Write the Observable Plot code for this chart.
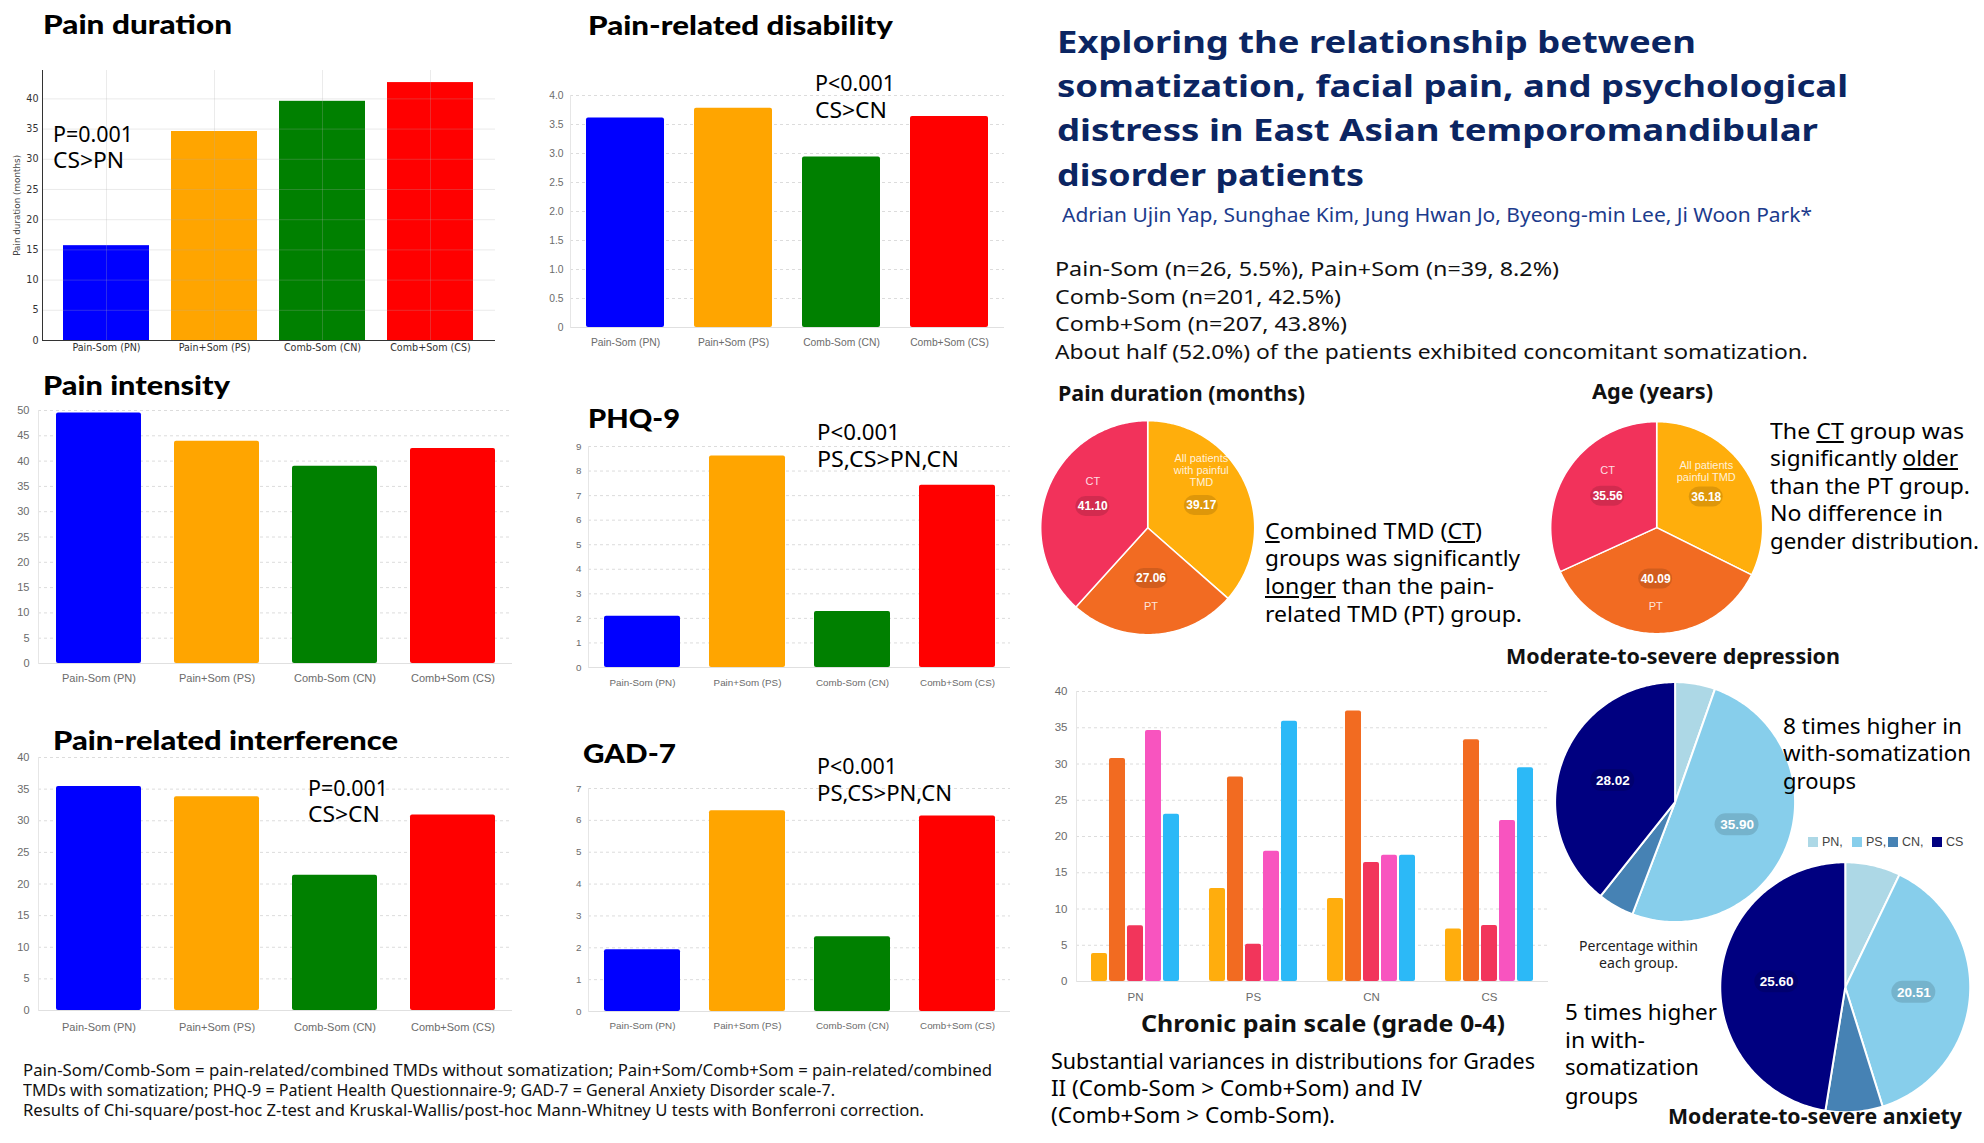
<!DOCTYPE html>
<html><head><meta charset="utf-8">
<script src="https://cdn.jsdelivr.net/npm/d3@7"></script>
<script src="https://cdn.jsdelivr.net/npm/@observablehq/plot@0.6"></script>
<style>
html,body{margin:0;padding:0;background:#fff;}
#root{position:relative;width:1984px;height:1143px;overflow:hidden;background:#fff;}
#root > *{position:absolute;}
.t{white-space:nowrap;}
.sq{width:10px;height:10px;}
</style></head>
<body><div id="root"></div>
<script>
// ---------------- data ----------------
const groups = ["Pain-Som (PN)", "Pain+Som (PS)", "Comb-Som (CN)", "Comb+Som (CS)"];
const groupColors = ["#0000ff", "#ffa500", "#008000", "#ff0000"];
const painDuration = [15.7, 34.6, 39.6, 42.7];
const painDisability = [3.61, 3.78, 2.94, 3.64];
const painIntensity = [49.5, 43.9, 39.0, 42.5];
const phq9 = [2.09, 8.61, 2.28, 7.42];
const painInterference = [35.4, 33.8, 21.4, 30.9];
const gad7 = [1.94, 6.30, 2.35, 6.14];
const durationTicks = [0, 5, 10, 15, 20, 25, 30, 35, 40];
const disabilityTicks = [0, 0.5, 1, 1.5, 2, 2.5, 3, 3.5, 4];
const intensityTicks = [0, 5, 10, 15, 20, 25, 30, 35, 40, 45, 50];
const phqTicks = [0, 1, 2, 3, 4, 5, 6, 7, 8, 9];
const interferenceTicks = [0, 5, 10, 15, 20, 25, 30, 35, 40];
const gadTicks = [0, 1, 2, 3, 4, 5, 6, 7];

const cpsGroups = ["PN", "PS", "CN", "CS"];
const cpsGrades = ["Grade 0", "Grade I", "Grade II", "Grade III", "Grade IV"];
const cpsColors = ["#ffad0d", "#f26b21", "#f2355b", "#f854bf", "#2cb9f7"];
const cpsPN = [3.85, 30.77, 7.69, 34.62, 23.08];
const cpsPS = [12.82, 28.21, 5.13, 17.95, 35.90];
const cpsCN = [11.44, 37.31, 16.42, 17.41, 17.41];
const cpsCS = [7.25, 33.33, 7.73, 22.22, 29.47];
const cpsTicks = [0, 5, 10, 15, 20, 25, 30, 35, 40];

const tmdColors = ["#ffae0c", "#f26b22", "#f2325b"];
const durationPieNames = ["All patients\nwith painful\nTMD", "PT", "CT"];
const durationPieMonths = [39.17, 27.06, 41.10];
const agePieNames = ["All patients\npainful TMD", "PT", "CT"];
const agePieYears = [36.18, 40.09, 35.56];

const moodGroups = ["PN", "PS", "CN", "CS"];
const moodColors = ["#add8e6", "#87ceeb", "#4682b4", "#000080"];
const depressionPct = [3.85, 35.90, 3.48, 28.02];
const anxietyPct = [3.85, 20.51, 3.98, 25.60];

// ---------------- helpers ----------------
const root = document.getElementById("root");
const fits = [];
const BASE = {noto: 0.888, lato: 0.887, lib: 0.847, dejavu: 0.846};
const FAM = {
  noto: "'Noto Sans', sans-serif",
  lato: "Lato, 'Noto Sans', sans-serif",
  lib: "'Liberation Sans', Arial, sans-serif",
  dejavu: "'DejaVu Sans', sans-serif"
};
function T(content, o) {
  const f = o.font || "noto", size = o.size;
  const d = document.createElement("div");
  d.className = "t";
  d.style.left = o.x + "px";
  d.style.top = (o.base - BASE[f] * size) + "px";
  d.style.fontSize = size + "px";
  d.style.lineHeight = size + "px";
  d.style.fontFamily = FAM[f];
  d.style.fontWeight = o.weight || 400;
  d.style.color = o.color || "#000";
  if (o.html) d.innerHTML = content; else d.textContent = content;
  root.appendChild(d);
  fits.push({d, o});
  return d;
}
function place(el, left, top) {
  el.style.position = "absolute";
  el.style.left = left + "px";
  el.style.top = top + "px";
  root.appendChild(el);
}

// Chart.js-like bar chart
function cjsBars(values, ticks, fmt, b) {
  const mL = 40, mR = 6, mT = 8, mB = 30;
  const data = groups.map((g, i) => ({group: g, value: values[i]}));
  const chart = Plot.plot({
    width: b.x1 - b.x0 + mL + mR, height: b.yBot - b.yTop + mT + mB,
    marginLeft: mL, marginRight: mR, marginTop: mT, marginBottom: mB,
    style: {fontFamily: FAM.lib, fontSize: b.fs + "px", color: "#6b6b6b", background: "none", overflow: "visible"},
    x: {type: "band", domain: groups, paddingInner: 0.28, paddingOuter: 0.14, label: null, tickSize: 0, tickPadding: b.gap - 0.36 * b.fs},
    y: {domain: [0, ticks[ticks.length - 1]], ticks, tickFormat: fmt, label: null, tickSize: 0, tickPadding: b.ypad},
    color: {domain: groups, range: groupColors},
    marks: [
      Plot.ruleY(ticks.filter(t => t > 0), {stroke: "#dcdcdc", strokeDasharray: "3,3"}),
      Plot.barY(data, {x: "group", y: "value", fill: "group", rx: 2}),
      Plot.ruleY([0], {stroke: "#e0e0e0"}),
      Plot.frame({anchor: "left", stroke: "#e6e6e6"})
    ]
  });
  place(chart, b.x0 - mL, b.yTop - mT);
}

// pie drawn through Plot scales (unit circle)
function pie(values, colors, o) {
  const pad = 1.03, size = 2 * o.r * pad;
  const total = d3.sum(values);
  const marks = [];
  const vals = [], names = [];
  let a0 = 0;
  values.forEach((v, i) => {
    const a1 = a0 + v / total * 2 * Math.PI;
    const n = Math.max(2, Math.ceil((a1 - a0) * 180 / Math.PI));
    const pts = [{x: 0, y: 0}];
    for (let k = 0; k <= n; k++) { const a = a0 + (a1 - a0) * k / n; pts.push({x: Math.sin(a), y: Math.cos(a)}); }
    marks.push(Plot.line(pts, {x: "x", y: "y", fill: colors[i], stroke: "#fff", strokeWidth: o.sw, strokeLinejoin: "round", curve: "linear-closed"}));
    const am = (a0 + a1) / 2;
    const cx = 0.55 * Math.sin(am), cy = 0.55 * Math.cos(am);
    if (o.show[i]) vals.push({x: cx, y: cy - (o.vdy ? o.vdy[i] : 0) / o.r, text: v.toFixed(2)});
    if (o.names) names.push({x: cx, y: cy - o.ndy[i] / o.r, text: o.names[i]});
    a0 = a1;
  });
  const bw = o.bw / o.r, bh = o.bh / o.r;
  marks.push(Plot.rect(vals, {x1: d => d.x - bw, x2: d => d.x + bw, y1: d => d.y - bh, y2: d => d.y + bh, fill: "rgba(0,0,0,0.13)", rx: o.bh}));
  marks.push(Plot.text(vals, {x: "x", y: "y", text: "text", fill: "#fff", fontWeight: "bold", fontSize: o.vfs, fontFamily: FAM.lib}));
  if (o.names) marks.push(Plot.text(names, {x: "x", y: "y", text: "text", fill: "rgba(255,255,255,0.85)", fontSize: 11, fontFamily: FAM.lib, lineHeight: 1.1}));
  const chart = Plot.plot({
    width: size, height: size, margin: 0,
    x: {domain: [-pad, pad], axis: null}, y: {domain: [-pad, pad], axis: null},
    style: {background: "none", overflow: "visible"},
    marks
  });
  place(chart, o.cx - size / 2, o.cy - size / 2);
}

// ---------------- left: bar charts ----------------
// Pain duration (matplotlib style)
(function () {
  const b = {x0: 42, x1: 495, yTop: 70, yBot: 340};
  const mL = 40, mR = 8, mT = 6, mB = 24;
  const data = groups.map((g, i) => ({group: g, value: painDuration[i]}));
  const chart = Plot.plot({
    width: b.x1 - b.x0 + mL + mR, height: b.yBot - b.yTop + mT + mB,
    marginLeft: mL, marginRight: mR, marginTop: mT, marginBottom: mB,
    style: {fontFamily: FAM.dejavu, fontSize: "9.6px", color: "#333", background: "none", overflow: "visible"},
    x: {type: "band", domain: groups, paddingInner: 0.2, paddingOuter: 0.1, inset: 9, label: null, tickSize: 0, tickPadding: 3.5},
    y: {domain: [0, 44.7], ticks: durationTicks, label: null, tickSize: 0, tickPadding: 4},
    color: {domain: groups, range: groupColors},
    marks: [
      Plot.barY(data, {x: "group", y: "value", fill: "group"}),
      Plot.ruleY(durationTicks.filter(t => t > 0), {stroke: "#b0b0b0", strokeOpacity: 0.25}),
      Plot.ruleX(groups, {x: d => d, stroke: "#b0b0b0", strokeOpacity: 0.25}),
      Plot.ruleY([0], {stroke: "#333"}),
      Plot.frame({anchor: "left", stroke: "#333"})
    ]
  });
  place(chart, b.x0 - mL, b.yTop - mT);
  const yl = T("Pain duration (months)", {x: 0, base: 0, size: 8.8, font: "dejavu", color: "#444"});
  yl.dataset.rot = "1";
})();

cjsBars(painDisability, disabilityTicks, d => d === 0 ? "0" : d.toFixed(1), {x0: 570, x1: 1004, yTop: 95, yBot: 327, fs: 10.3, gap: 15, ypad: 7});
cjsBars(painIntensity, intensityTicks, d => String(d), {x0: 38, x1: 512, yTop: 410, yBot: 663, fs: 11, gap: 15, ypad: 9});
cjsBars(phq9, phqTicks, d => String(d), {x0: 588, x1: 1010, yTop: 446, yBot: 667, fs: 9.8, gap: 15, ypad: 7});
cjsBars(painInterference, interferenceTicks, d => String(d), {x0: 38, x1: 512, yTop: 757, yBot: 1010, fs: 11, gap: 17, ypad: 9});
cjsBars(gad7, gadTicks, d => String(d), {x0: 588, x1: 1010, yTop: 788, yBot: 1011, fs: 9.8, gap: 14, ypad: 7});

// chart titles
T("Pain duration", {x: 43, base: 34.3, size: 27, font: "lato", weight: 900, w: 189});
T("Pain-related disability", {x: 588, base: 35, size: 27, font: "lato", weight: 900, w: 305});
T("Pain intensity", {x: 43, base: 395, size: 27, font: "lato", weight: 900, w: 187});
T("PHQ-9", {x: 588, base: 428, size: 27, font: "lato", weight: 900, w: 92});
T("Pain-related interference", {x: 53, base: 750, size: 27, font: "lato", weight: 900, w: 345});
T("GAD-7", {x: 583, base: 763, size: 27, font: "lato", weight: 900, w: 93});

// annotations
T("P=0.001", {x: 53, base: 141.7, size: 22, w: 80});
T("CS>PN", {x: 53, base: 168, size: 22, w: 71});
T("P<0.001", {x: 815, base: 90.7, size: 22, w: 80});
T("CS>CN", {x: 815, base: 117.3, size: 22, w: 72});
T("P<0.001", {x: 817, base: 440, size: 22, w: 83});
T("PS,CS>PN,CN", {x: 817, base: 466.7, size: 22, w: 142});
T("P=0.001", {x: 308, base: 796, size: 22, w: 80});
T("CS>CN", {x: 308, base: 822, size: 22, w: 72});
T("P<0.001", {x: 817, base: 774, size: 22, w: 80});
T("PS,CS>PN,CN", {x: 817, base: 800.7, size: 22, w: 135});

// footnote
T("Pain-Som/Comb-Som = pain-related/combined TMDs without somatization; Pain+Som/Comb+Som = pain-related/combined", {x: 23, base: 1075.7, size: 17, w: 969, color: "#111"});
T("TMDs with somatization; PHQ-9 = Patient Health Questionnaire-9; GAD-7 = General Anxiety Disorder scale-7.", {x: 23, base: 1095.7, size: 17, w: 812, color: "#111"});
T("Results of Chi-square/post-hoc Z-test and Kruskal-Wallis/post-hoc Mann-Whitney U tests with Bonferroni correction.", {x: 23, base: 1115.7, size: 17, w: 901, color: "#111"});

// ---------------- right: title block ----------------
const navy = "#0b2562";
T("Exploring the relationship between", {x: 1057, base: 53.3, size: 30, weight: 700, color: navy, w: 639});
T("somatization, facial pain, and psychological", {x: 1057, base: 97.5, size: 30, weight: 700, color: navy, w: 791});
T("distress in East Asian temporomandibular", {x: 1057, base: 142, size: 30, weight: 700, color: navy, w: 761});
T("disorder patients", {x: 1057, base: 187, size: 30, weight: 700, color: navy, w: 307});
T("Adrian Ujin Yap, Sunghae Kim, Jung Hwan Jo, Byeong-min Lee, Ji Woon Park*", {x: 1062, base: 223, size: 20, color: "#1c3b8c", w: 750});
T("Pain-Som (n=26, 5.5%), Pain+Som (n=39, 8.2%)", {x: 1055, base: 276.7, size: 20.5, color: "#111", w: 504});
T("Comb-Som (n=201, 42.5%)", {x: 1055, base: 304, size: 20.5, color: "#111", w: 286});
T("Comb+Som (n=207, 43.8%)", {x: 1055, base: 331.7, size: 20.5, color: "#111", w: 292});
T("About half (52.0%) of the patients exhibited concomitant somatization.", {x: 1055, base: 359.3, size: 20.5, color: "#111", w: 753});

// ---------------- pies ----------------
T("Pain duration (months)", {x: 1058, base: 401.7, size: 20.5, weight: 700, color: "#111", w: 247});
T("Age (years)", {x: 1592, base: 399, size: 20.5, weight: 700, color: "#111", w: 121});
pie(durationPieMonths, tmdColors, {cx: 1147, cy: 527, r: 107, sw: 1.5, show: [true, true, true], names: durationPieNames, vdy: [2, -8, 0], ndy: [-33, 20, -25], bw: 17, bh: 10, vfs: 12});
pie(agePieYears, tmdColors, {cx: 1656, cy: 527, r: 106, sw: 1.5, show: [true, true, true], names: agePieNames, vdy: [0, -7, 0], ndy: [-26, 20, -26], bw: 17, bh: 10, vfs: 12});

T("<u>C</u>ombined TMD (<u>CT</u>)", {x: 1265, base: 540, size: 21, html: true, w: 217});
T("groups was significantly", {x: 1265, base: 566.7, size: 21, w: 255});
T("<u>longer</u> than the pain-", {x: 1265, base: 595, size: 21, html: true, w: 229});
T("related TMD (PT) group.", {x: 1265, base: 622.3, size: 21, w: 257});

T("The <u>CT</u> group was", {x: 1770, base: 440, size: 21, html: true, w: 194});
T("significantly <u>older</u>", {x: 1770, base: 467, size: 21, html: true, w: 188});
T("than the PT group.", {x: 1770, base: 495, size: 21, w: 200});
T("No difference in", {x: 1770, base: 522, size: 21, w: 173});
T("gender distribution.", {x: 1770, base: 550, size: 21, w: 209});

// ---------------- chronic pain scale ----------------
(function () {
  const b = {x0: 1076, x1: 1548, yTop: 691, yBot: 981};
  const mL = 40, mR = 6, mT = 8, mB = 26;
  const W = b.x1 - b.x0 + mL + mR, H = b.yBot - b.yTop + mT + mB;
  const bg = Plot.plot({
    width: W, height: H, marginLeft: mL, marginRight: mR, marginTop: mT, marginBottom: mB,
    style: {fontFamily: FAM.lib, fontSize: "11.5px", color: "#6b6b6b", background: "none", overflow: "visible"},
    x: {type: "band", domain: cpsGroups, padding: 0, label: null, tickSize: 0, tickPadding: 11},
    y: {domain: [0, 40], ticks: cpsTicks, label: null, tickSize: 0, tickPadding: 9},
    marks: [
      Plot.ruleY(cpsTicks.filter(t => t > 0), {stroke: "#dcdcdc", strokeDasharray: "3,3"}),
      Plot.ruleY([0], {stroke: "#e0e0e0"}),
      Plot.frame({anchor: "left", stroke: "#e6e6e6"})
    ]
  });
  place(bg, b.x0 - mL, b.yTop - mT);
  const series = [cpsPN, cpsPS, cpsCN, cpsCS];
  const data = cpsGroups.flatMap((g, gi) => cpsGrades.map((gr, k) => ({group: g, grade: gr, value: series[gi][k]})));
  const bars = Plot.plot({
    width: W, height: H, marginLeft: mL, marginRight: mR, marginTop: mT, marginBottom: mB,
    style: {background: "none", overflow: "visible"},
    fx: {domain: cpsGroups, padding: 0, axis: null, label: null},
    x: {type: "band", domain: cpsGrades, paddingInner: 0.1, paddingOuter: 0.675, axis: null},
    y: {domain: [0, 40], axis: null},
    color: {domain: cpsGrades, range: cpsColors},
    marks: [Plot.barY(data, {fx: "group", x: "grade", y: "value", fill: "grade", rx: 2})]
  });
  place(bars, b.x0 - mL, b.yTop - mT);
})();
T("Chronic pain scale (grade 0-4)", {x: 1141, base: 1032, size: 24, weight: 700, color: "#111", w: 364});
T("Substantial variances in distributions for Grades", {x: 1051, base: 1070, size: 21, w: 484});
T("II (Comb-Som > Comb+Som) and IV", {x: 1051, base: 1096.7, size: 21, w: 371});
T("(Comb+Som > Comb-Som).", {x: 1051, base: 1123.3, size: 21, w: 284});

// ---------------- depression / anxiety ----------------
T("Moderate-to-severe depression", {x: 1506, base: 665, size: 21, weight: 700, color: "#111", w: 334});
pie(depressionPct, moodColors, {cx: 1675, cy: 802, r: 120, sw: 2, show: [false, true, false, true], bw: 22, bh: 11, vfs: 13.5});
pie(anxietyPct, moodColors, {cx: 1845, cy: 987, r: 125, sw: 2, show: [false, true, false, true], bw: 22, bh: 11, vfs: 13.5});
T("Moderate-to-severe anxiety", {x: 1668, base: 1125, size: 21, weight: 700, color: "#111", w: 294});

T("8 times higher in", {x: 1783, base: 733.3, size: 22, w: 179});
T("with-somatization", {x: 1783, base: 760.7, size: 22, w: 188});
T("groups", {x: 1783, base: 788.3, size: 22, w: 73});
T("5 times higher", {x: 1565, base: 1020, size: 22, w: 152});
T("in with-", {x: 1565, base: 1047.3, size: 22, w: 80});
T("somatization", {x: 1565, base: 1075, size: 22, w: 134});
T("groups", {x: 1565, base: 1103.3, size: 22, w: 73});
T("Percentage within", {x: 1638, base: 951.7, size: 14, w: 119, align: "center", color: "#222"});
T("each group.", {x: 1638, base: 968.3, size: 14, w: 79, align: "center", color: "#222"});

// legend
const legX = [1808, 1852, 1888, 1932];
const legLabels = ["PN,", "PS,", "CN,", "CS"];
moodGroups.forEach((g, i) => {
  const s = document.createElement("div");
  s.className = "sq";
  s.style.left = legX[i] + "px"; s.style.top = "837px"; s.style.background = moodColors[i];
  root.appendChild(s);
  T(legLabels[i], {x: legX[i] + 14, base: 846.5, size: 12.5, font: "lib", color: "#444"});
});

// ---------------- fit text widths ----------------
fits.forEach(({d, o}) => {
  const mw = d.getBoundingClientRect().width;
  let s = o.w ? Math.max(0.7, Math.min(1.3, o.w / mw)) : 1;
  if (d.dataset.rot) {
    const h = d.getBoundingClientRect().height;
    d.style.left = (17 - mw / 2) + "px";
    d.style.top = (205 - h / 2) + "px";
    d.style.transform = "rotate(-90deg)";
    d.style.transformOrigin = "50% 50%";
    return;
  }
  if (o.align === "center") d.style.left = (o.x - mw * s / 2) + "px";
  if (o.w) { d.style.transformOrigin = "0 50%"; d.style.transform = `scaleX(${s.toFixed(4)})`; }
});
</script>
</body></html>
